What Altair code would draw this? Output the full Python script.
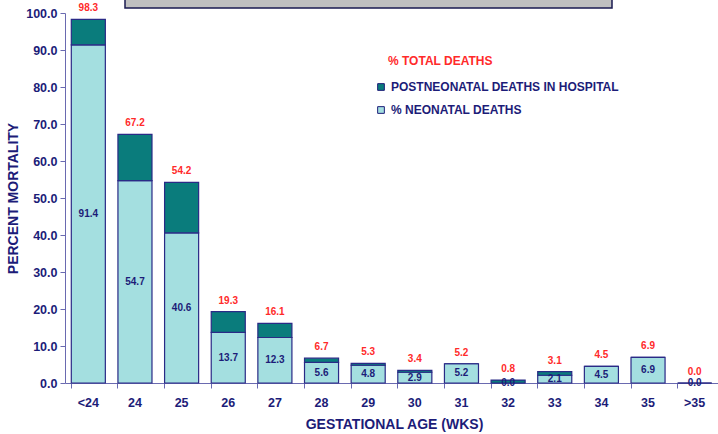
import altair as alt
import pandas as pd

categories = ["<24", "24", "25", "26", "27", "28", "29", "30", "31", "32", "33", "34", "35", ">35"]
neonatal = [91.4, 54.7, 40.6, 13.7, 12.3, 5.6, 4.8, 2.9, 5.2, 0.0, 2.1, 4.5, 6.9, 0.0]
total = [98.3, 67.2, 54.2, 19.3, 16.1, 6.7, 5.3, 3.4, 5.2, 0.8, 3.1, 4.5, 6.9, 0.0]
series_names = ["POSTNEONATAL DEATHS IN HOSPITAL", "% NEONATAL DEATHS"]
series_colors = ["#0a7c7c", "#a4dfe0"]
y_ticks = [0, 10, 20, 30, 40, 50, 60, 70, 80, 90, 100]

NAVY = "#1c1c78"
RED = "#ff2a2a"
FONT = "Liberation Sans"

rows = []
for c, n, t in zip(categories, neonatal, total):
    rows.append({"cat": c, "series": series_names[1], "lo": 0.0, "hi": n,
                 "mid": n / 2, "lab": f"{n:.1f}", "tot": t, "totlab": f"{t:.1f}"})
    rows.append({"cat": c, "series": series_names[0], "lo": n, "hi": t,
                 "mid": None, "lab": "", "tot": t, "totlab": f"{t:.1f}"})
df = pd.DataFrame(rows)

xaxis = alt.Axis(title="GESTATIONAL AGE (WKS)", labelAngle=0, bandPosition=0,
                 labelFont=FONT, labelFontSize=12.5, labelFontWeight="bold",
                 labelColor=NAVY, labelPadding=8,
                 titleFont=FONT, titleFontSize=14, titleFontWeight="bold",
                 titleColor=NAVY, titlePadding=9,
                 domainColor="#6a6ab0", tickColor="#6a6ab0", tickSize=5,
                 titleX=329)
xsc = alt.Scale(paddingInner=0.27, paddingOuter=0.135)
yaxis = alt.Axis(title="PERCENT MORTALITY", format=".1f", values=y_ticks,
                 labelOverlap=False, tickCount=11,
                 grid=False, labelFont=FONT, labelFontSize=12.5, labelFontWeight="bold",
                 labelColor=NAVY, titleFont=FONT, titleFontSize=14,
                 titleFontWeight="bold", titleColor=NAVY, titlePadding=5,
                 domainColor="#6a6ab0", tickColor="#6a6ab0", tickSize=5,
                 labelPadding=3)
ysc = alt.Scale(domain=[0, 100], nice=False)


def X():
    return alt.X("cat:N", sort=categories, scale=xsc, axis=xaxis)


def Y(field):
    return alt.Y(field, scale=ysc, axis=yaxis, title="PERCENT MORTALITY")


base = alt.Chart(df)

bars = base.mark_bar(stroke="#2a2a86", strokeWidth=1.2, opacity=1).encode(
    x=X(),
    y=Y("hi:Q"),
    y2="lo:Q",
    color=alt.Color("series:N", scale=alt.Scale(domain=series_names, range=series_colors),
                    legend=alt.Legend(title=None, orient="none", legendX=310, legendY=68,
                                      labelFont=FONT, labelFontSize=12, labelFontWeight="bold",
                                      labelColor=NAVY, symbolType="square", symbolSize=45,
                                      symbolStrokeColor=NAVY, symbolStrokeWidth=1,
                                      rowPadding=11, labelOffset=4, labelLimit=0)),
)

inner = base.transform_filter(alt.datum.lab != "").mark_text(
    font=FONT, fontSize=10, fontWeight="bold", color=NAVY, baseline="middle"
).encode(x=X(), y=Y("mid:Q"), text="lab:N")

tops = base.transform_filter(alt.datum.lab != "").mark_text(
    font=FONT, fontSize=10, fontWeight="bold", color=RED, baseline="bottom", dy=-6
).encode(x=X(), y=Y("tot:Q"), text="totlab:N")

legend_title = alt.Chart(pd.DataFrame({"t": ["% TOTAL DEATHS"]})).mark_text(
    font=FONT, fontSize=12, fontWeight="bold", color=RED, align="left", baseline="middle"
).encode(x=alt.value(388 - 65), y=alt.value(61 - 13), text="t:N")

box = alt.Chart(pd.DataFrame({"a": [0]})).mark_rect(
    fill="#c0c0c0", stroke="#1a1a50", strokeWidth=1.5
).encode(x=alt.value(125 - 65), x2=alt.value(612 - 65), y=alt.value(-20), y2=alt.value(8 - 13))

chart = alt.layer(bars, inner, tops, legend_title, box).properties(
    width=653, height=370,
    autosize=alt.AutoSizeParams(type="none"),
    padding={"left": 65, "top": 13, "right": 0, "bottom": 51},
    background="white",
).configure_view(stroke=None)

chart.save("out.html", embed_options={"renderer": "svg", "actions": False})
